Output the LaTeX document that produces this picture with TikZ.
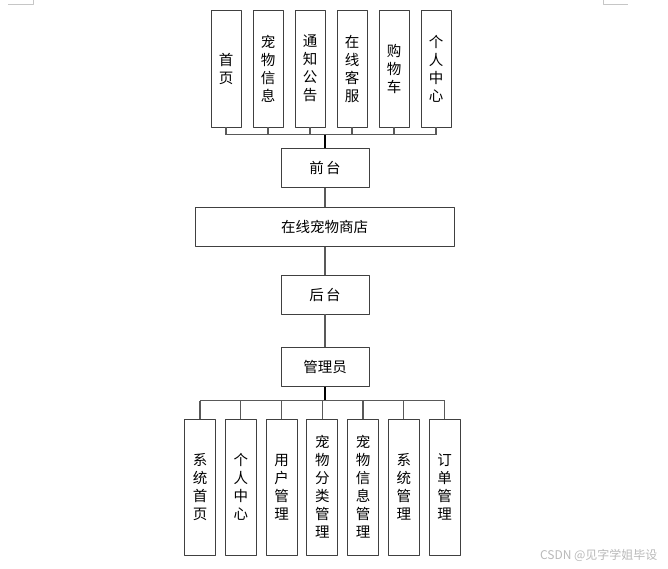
\documentclass[tikz,border=0pt]{standalone}
\usepackage{fontspec}
\setmainfont{Noto Sans CJK SC}
\usepackage{tikz}
\usetikzlibrary{calc}
\tikzset{vbox/.style={draw=black!75,line width=0.9pt,minimum width=30pt,minimum height=117pt,inner sep=0pt,align=center},
  hbox/.style={draw=black!75,line width=0.9pt,minimum width=88pt,minimum height=39pt,inner sep=0pt},
  link/.style={draw=black!65,line width=1.2pt},
  trunk/.style={draw=black,line width=1.6pt}}

\begin{document}
\begin{tikzpicture}[x=1pt,y=-1pt,font=\fontsize{14.5}{18}\selectfont,line join=round]
\useasboundingbox (0,0) rectangle (668,569);
% --- page corner marks
\draw[gray!45,line width=0.8pt] (33.3,0) -- (33.3,4.5) -- (8.3,4.5);
\draw[gray!45,line width=0.8pt] (603.3,0) -- (603.3,4.5) -- (627.7,4.5);
% --- front-end modules
\foreach \txt [count=\i] in {{首\\页},{宠\\物\\信\\息},{通\\知\\公\\告},{在\\线\\客\\服},{购\\物\\车},{个\\人\\中\\心}}
  \node[vbox] (t\i) at ({184+42*\i},68.5) {\txt};
\coordinate (busT) at (325,134.7);
\foreach \i in {1,...,6} \draw[link] (t\i.south) -- (t\i.south |- busT);
\draw[link] (t1.south |- busT) -- (t6.south |- busT);
% --- main chain
\node[hbox] (front) at (325,167.7) {前\,台};
\node[hbox,minimum width=259pt] (shop) at (324.5,227.3) {在线宠物商店};
\node[hbox] (back) at (325,294.5) {后\,台};
\node[hbox] (admin) at (325,367) {管理员};
\draw[trunk] (busT) -- (front.north);
\draw[link] (front) -- (front |- shop.north);
\draw[link] (front |- shop.south) -- (back);
\draw[link] (back) -- (admin);
% --- admin modules
\foreach \txt [count=\i] in {{系\\统\\首\\页},{个\\人\\中\\心},{用\\户\\管\\理},{宠\\物\\分\\类\\管\\理},{宠\\物\\信\\息\\管\\理},{系\\统\\管\\理},{订\\单\\管\\理}}
  \node[vbox,minimum width=31pt,minimum height=136pt] (b\i) at ({159.25+40.75*\i},487) {\txt};
\coordinate (busB) at (325,400.7);
\draw[trunk] (admin) -- (busB);
\foreach \i in {1,...,7} \draw[link] (b\i.north) -- (b\i.north |- busB);
\draw[link] (b1.north |- busB) -- (b7.north |- busB);
% --- watermark
\node[text=gray!55,font=\fontsize{12}{12}\selectfont,anchor=east] (wm) at (661,555) {CSDN @见字学姐毕设};
\end{tikzpicture}
\end{document}
